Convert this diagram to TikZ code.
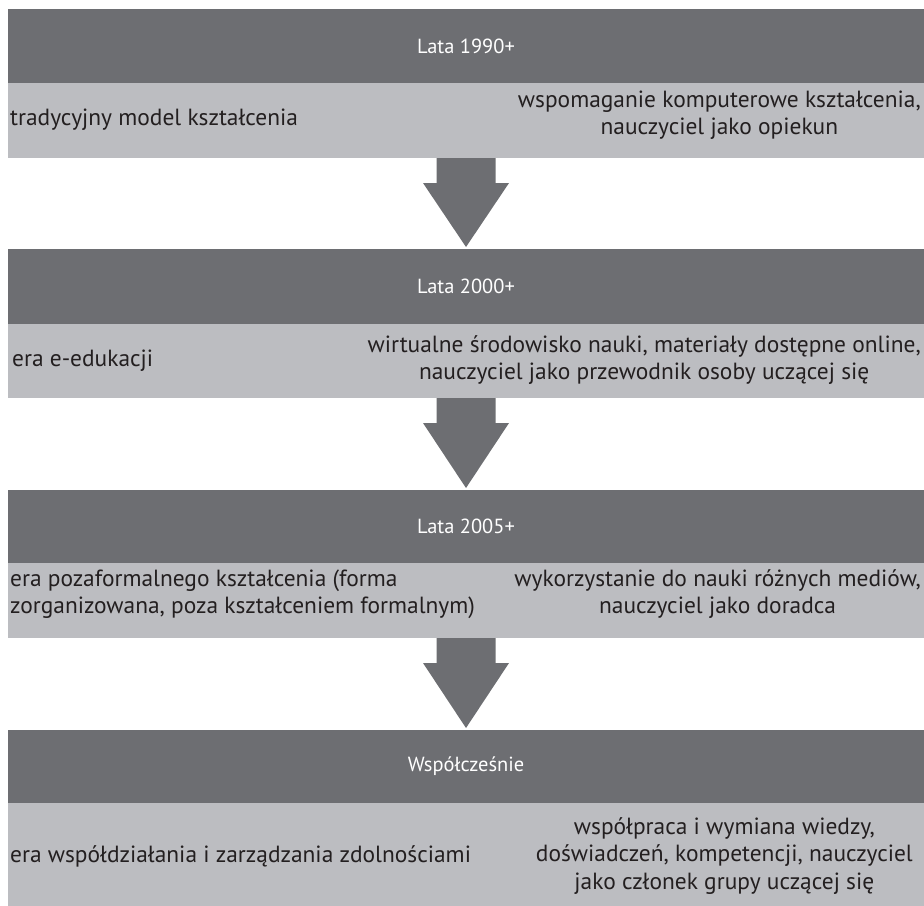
\documentclass[tikz,border=0pt]{standalone}
\usepackage{fontspec}
\setmainfont{PT Sans}
\usetikzlibrary{calc}
\definecolor{bandDark}{RGB}{109,110,114}
\definecolor{bandLight}{RGB}{188,189,193}
\definecolor{ink}{RGB}{35,31,32}
\tikzset{
  headfont/.style={font=\fontsize{20.5}{27}\selectfont},
  bodyfont/.style={font=\fontsize{23.5}{27.5}\selectfont},
  header/.style={headfont, fill=bandDark, text=white, minimum width=916bp,
    anchor=north west, inner sep=0pt, outer sep=0pt},
  panel/.style={fill=bandLight, minimum width=916bp, anchor=north west,
    inner sep=0pt, outer sep=0pt},
  lefttext/.style={bodyfont, text=ink, anchor=west, align=left, inner sep=0pt},
  righttext/.style={bodyfont, text=ink, anchor=east, align=center, inner sep=0pt},
  flow/.style={fill=bandDark}
}
% block arrow from the bottom of one panel to the top of the next header
\newcommand\flowarrow[2]{%
  \fill[flow] ($(#1.south)+(-29.5,0)$) -- ($(#1.south)+(29.5,0)$)
    -- ($(#1.south)+(29.5,25)$) -- ($(#1.south)+(43,25)$)
    -- ($(#2.north)+(0,-2)$)
    -- ($(#1.south)+(-43,25)$) -- ($(#1.south)+(-29.5,25)$) -- cycle;}
\begin{document}
\begin{tikzpicture}[x=1bp,y=-1bp]
\useasboundingbox (0,0) rectangle (924,906);

% 1990+
\node[header, minimum height=74bp] (h1) at (8,9) {Lata 1990+};
\node[panel, minimum height=75bp] (p1) at (8,83) {};
\node[lefttext] (l1) at (10,120) {tradycyjny model kształcenia};
\node[righttext] (r1) at (921,115) {wspomaganie komputerowe kształcenia,\\nauczyciel jako opiekun};

% 2000+
\node[header, minimum height=75bp] (h2) at (8,249) {Lata 2000+};
\node[panel, minimum height=74bp] (p2) at (8,324) {};
\node[lefttext] (l2) at (12,361) {era e-edukacji};
\node[righttext] (r2) at (921,360) {wirtualne środowisko nauki, materiały dostępne online,\\nauczyciel jako przewodnik osoby uczącej się};

% 2005+
\node[header, minimum height=73bp] (h3) at (8,490) {Lata 2005+};
\node[panel, minimum height=75bp] (p3) at (8,563) {};
\node[lefttext] (l3) at (10,594) {era pozaformalnego kształcenia (forma\\zorganizowana, poza kształceniem formalnym)};
\node[righttext] (r3) at (921,594) {wykorzystanie do nauki różnych mediów,\\nauczyciel jako doradca};

% present day
\node[header, minimum height=73bp] (h4) at (8,730) {Współcześnie};
\node[panel, minimum height=103bp] (p4) at (8,803) {};
\node[lefttext] (l4) at (10,856) {era współdziałania i zarządzania zdolnościami};
\node[righttext] (r4) at (913,856) {współpraca i wymiana wiedzy,\\doświadczeń, kompetencji, nauczyciel\\jako członek grupy uczącej się};

\flowarrow{p1}{h2}
\flowarrow{p2}{h3}
\flowarrow{p3}{h4}
\end{tikzpicture}
\end{document}
